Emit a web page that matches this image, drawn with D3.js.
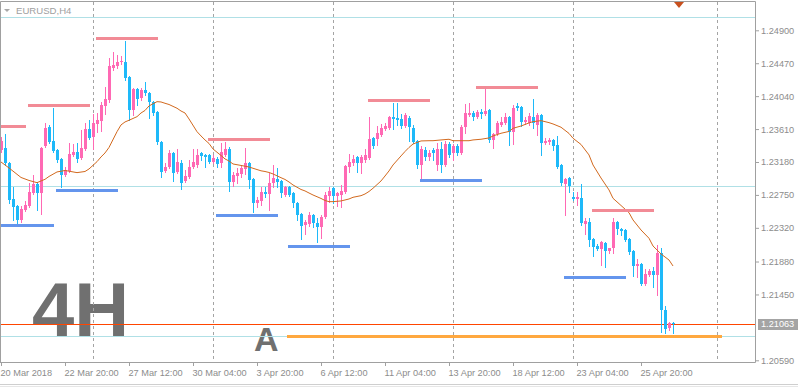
<!DOCTYPE html>
<html>
<head>
<meta charset="utf-8">
<style>
    body { margin: 0; background: #fff; }
    svg { display: block; font-family: "Liberation Sans", Arial, sans-serif; }
    .axis text { fill: #8c8c8c; font-size: 9.2px; }
    .axis line { stroke: #a0a0a0; }
</style>
</head>
<body>
<script src="https://cdn.jsdelivr.net/npm/d3@7"></script>
<script>

    // EURUSD H4 bars, 20 Mar 2018 04:00 .. 27 Apr 2018 04:00
    var open = [
        1.2334, 1.2336, 1.2317, 1.2270, 1.2261, 1.2242, 1.2255, 1.2261, 1.2277, 1.2289,
        1.2277, 1.2339, 1.2364, 1.2345, 1.2334, 1.2322, 1.2301, 1.2306, 1.2327, 1.2331,
        1.2323, 1.2335, 1.2361, 1.2351, 1.2368, 1.2372, 1.2391, 1.2399, 1.2441, 1.2443,
        1.2449, 1.2449, 1.2429, 1.2386, 1.2413, 1.2402, 1.2412, 1.2408, 1.2396, 1.2383,
        1.2344, 1.2306, 1.2312, 1.2330, 1.2305, 1.2317, 1.2293, 1.2298, 1.2312, 1.2314,
        1.2330, 1.2327, 1.2327, 1.2318, 1.2322, 1.2317, 1.2327, 1.2335, 1.2292, 1.2300,
        1.2302, 1.2309, 1.2317, 1.2296, 1.2264, 1.2267, 1.2279, 1.2276, 1.2291, 1.2296,
        1.2293, 1.2275, 1.2285, 1.2277, 1.2264, 1.2250, 1.2236, 1.2237, 1.2249, 1.2238,
        1.2233, 1.2246, 1.2274, 1.2284, 1.2274, 1.2275, 1.2279, 1.2312, 1.2317, 1.2325,
        1.2317, 1.2320, 1.2323, 1.2349, 1.2348, 1.2353, 1.2361, 1.2362, 1.2377, 1.2375,
        1.2374, 1.2365, 1.2375, 1.2362, 1.2345, 1.2314, 1.2334, 1.2325, 1.2334, 1.2314,
        1.2335, 1.2314, 1.2341, 1.2330, 1.2339, 1.2330, 1.2364, 1.2379, 1.2382, 1.2377,
        1.2383, 1.2381, 1.2386, 1.2347, 1.2355, 1.2366, 1.2369, 1.2377, 1.2357, 1.2391,
        1.2390, 1.2370, 1.2369, 1.2377, 1.2366, 1.2379, 1.2343, 1.2344, 1.2347, 1.2340,
        1.2314, 1.2289, 1.2297, 1.2272, 1.2270, 1.2271, 1.2237, 1.2240, 1.2218, 1.2208,
        1.2204, 1.2212, 1.2202, 1.2206, 1.2240, 1.2231, 1.2229, 1.2218, 1.2202, 1.2182,
        1.2185, 1.2159, 1.2170, 1.2176, 1.2170, 1.2199, 1.2125, 1.2101, 1.2108
    ];
    var high = [
        1.2351, 1.2355, 1.2318, 1.2285, 1.2262, 1.2261, 1.2267, 1.2291, 1.2301, 1.2292,
        1.2338, 1.2369, 1.2366, 1.2389, 1.2335, 1.2323, 1.2312, 1.2343, 1.2341, 1.2343,
        1.2360, 1.2369, 1.2373, 1.2381, 1.2382, 1.2396, 1.2416, 1.2454, 1.2462, 1.2458,
        1.2456, 1.2476, 1.2430, 1.2415, 1.2415, 1.2415, 1.2423, 1.2410, 1.2398, 1.2385,
        1.2345, 1.2317, 1.2334, 1.2331, 1.2335, 1.2321, 1.2308, 1.2321, 1.2335, 1.2335,
        1.2331, 1.2328, 1.2328, 1.2327, 1.2325, 1.2343, 1.2344, 1.2338, 1.2305, 1.2310,
        1.2314, 1.2336, 1.2318, 1.2297, 1.2272, 1.2285, 1.2285, 1.2304, 1.2314, 1.2310,
        1.2295, 1.2287, 1.2287, 1.2279, 1.2266, 1.2251, 1.2242, 1.2253, 1.2250, 1.2245,
        1.2249, 1.2279, 1.2285, 1.2285, 1.2279, 1.2288, 1.2314, 1.2328, 1.2327, 1.2326,
        1.2327, 1.2335, 1.2377, 1.2351, 1.2365, 1.2368, 1.2369, 1.2378, 1.2395, 1.2395,
        1.2381, 1.2382, 1.2378, 1.2366, 1.2347, 1.2339, 1.2338, 1.2334, 1.2336, 1.2343,
        1.2344, 1.2345, 1.2344, 1.2341, 1.2341, 1.2366, 1.2394, 1.2395, 1.2385, 1.2386,
        1.2387, 1.2413, 1.2387, 1.2356, 1.2372, 1.2377, 1.2382, 1.2378, 1.2392, 1.2395,
        1.2391, 1.2377, 1.2382, 1.2400, 1.2382, 1.2381, 1.2349, 1.2349, 1.2348, 1.2352,
        1.2315, 1.2297, 1.2298, 1.2279, 1.2279, 1.2289, 1.2245, 1.2245, 1.2219, 1.2211,
        1.2215, 1.2214, 1.2206, 1.2245, 1.2241, 1.2232, 1.2231, 1.2219, 1.2203, 1.2191,
        1.2186, 1.2178, 1.2178, 1.2181, 1.2210, 1.2206, 1.2130, 1.2109, 1.2109
    ];
    var low = [
        1.2331, 1.2314, 1.2264, 1.2242, 1.2238, 1.2240, 1.2254, 1.2259, 1.2276, 1.2255,
        1.2250, 1.2338, 1.2343, 1.2331, 1.2318, 1.2285, 1.2300, 1.2305, 1.2326, 1.2318,
        1.2322, 1.2334, 1.2348, 1.2335, 1.2357, 1.2359, 1.2381, 1.2396, 1.2438, 1.2441,
        1.2446, 1.2425, 1.2373, 1.2379, 1.2392, 1.2399, 1.2406, 1.2375, 1.2379, 1.2341,
        1.2298, 1.2305, 1.2310, 1.2293, 1.2304, 1.2283, 1.2292, 1.2297, 1.2310, 1.2312,
        1.2321, 1.2312, 1.2317, 1.2317, 1.2312, 1.2312, 1.2326, 1.2280, 1.2287, 1.2291,
        1.2298, 1.2302, 1.2284, 1.2253, 1.2259, 1.2262, 1.2272, 1.2255, 1.2285, 1.2285,
        1.2272, 1.2274, 1.2274, 1.2259, 1.2242, 1.2218, 1.2224, 1.2234, 1.2233, 1.2214,
        1.2219, 1.2245, 1.2266, 1.2264, 1.2261, 1.2259, 1.2277, 1.2305, 1.2314, 1.2305,
        1.2304, 1.2318, 1.2322, 1.2336, 1.2340, 1.2352, 1.2360, 1.2361, 1.2361, 1.2366,
        1.2362, 1.2364, 1.2345, 1.2343, 1.2310, 1.2297, 1.2321, 1.2321, 1.2321, 1.2308,
        1.2305, 1.2313, 1.2325, 1.2321, 1.2327, 1.2328, 1.2356, 1.2378, 1.2373, 1.2375,
        1.2375, 1.2379, 1.2344, 1.2336, 1.2353, 1.2365, 1.2368, 1.2340, 1.2341, 1.2386,
        1.2365, 1.2368, 1.2366, 1.2362, 1.2353, 1.2327, 1.2341, 1.2341, 1.2334, 1.2310,
        1.2288, 1.2249, 1.2279, 1.2268, 1.2262, 1.2236, 1.2224, 1.2208, 1.2195, 1.2203,
        1.2183, 1.2181, 1.2199, 1.2199, 1.2224, 1.2223, 1.2215, 1.2198, 1.2169, 1.2168,
        1.2157, 1.2157, 1.2169, 1.2155, 1.2144, 1.2096, 1.2095, 1.2099, 1.2095
    ];
    var close = [
        1.2345, 1.2317, 1.2268, 1.2259, 1.2242, 1.2257, 1.2262, 1.2279, 1.2289, 1.2277,
        1.2336, 1.2362, 1.2344, 1.2332, 1.2321, 1.2301, 1.2308, 1.2328, 1.2331, 1.2322,
        1.2336, 1.2361, 1.2349, 1.2369, 1.2373, 1.2392, 1.2400, 1.2443, 1.2445, 1.2449,
        1.2450, 1.2428, 1.2386, 1.2413, 1.2400, 1.2412, 1.2408, 1.2396, 1.2382, 1.2344,
        1.2305, 1.2312, 1.2330, 1.2304, 1.2318, 1.2291, 1.2300, 1.2312, 1.2318, 1.2327,
        1.2326, 1.2325, 1.2318, 1.2323, 1.2315, 1.2331, 1.2335, 1.2292, 1.2301, 1.2304,
        1.2310, 1.2317, 1.2295, 1.2264, 1.2268, 1.2279, 1.2276, 1.2291, 1.2297, 1.2292,
        1.2277, 1.2285, 1.2275, 1.2264, 1.2249, 1.2234, 1.2240, 1.2249, 1.2238, 1.2233,
        1.2246, 1.2275, 1.2280, 1.2274, 1.2277, 1.2280, 1.2313, 1.2318, 1.2322, 1.2317,
        1.2325, 1.2327, 1.2348, 1.2339, 1.2356, 1.2362, 1.2365, 1.2377, 1.2374, 1.2373,
        1.2365, 1.2379, 1.2364, 1.2344, 1.2314, 1.2335, 1.2325, 1.2330, 1.2330, 1.2335,
        1.2314, 1.2341, 1.2327, 1.2339, 1.2330, 1.2364, 1.2382, 1.2382, 1.2377, 1.2383,
        1.2381, 1.2385, 1.2347, 1.2355, 1.2369, 1.2370, 1.2377, 1.2357, 1.2389, 1.2389,
        1.2370, 1.2373, 1.2378, 1.2369, 1.2379, 1.2343, 1.2345, 1.2347, 1.2339, 1.2312,
        1.2291, 1.2296, 1.2287, 1.2270, 1.2272, 1.2238, 1.2241, 1.2216, 1.2207, 1.2204,
        1.2214, 1.2202, 1.2206, 1.2240, 1.2231, 1.2228, 1.2216, 1.2200, 1.2182, 1.2185,
        1.2159, 1.2172, 1.2176, 1.2170, 1.2199, 1.2125, 1.2100, 1.2108, 1.21063
    ];

    // moving average at these bars
    var maBar = [0, 2, 5, 7, 9, 11, 12, 14, 16, 17, 19, 21, 22, 24, 25, 26, 27, 29, 30, 31,
        32, 34, 35, 36, 37, 39, 40, 41, 42, 44, 45, 46, 47, 49, 50, 51, 52, 53, 55, 56,
        57, 58, 60, 62, 63, 65, 66, 67, 68, 70, 71, 72, 73, 75, 76, 77, 78, 80, 81, 82,
        83, 85, 86, 87, 88, 90, 91, 92, 93, 95, 96, 97, 98, 100, 101, 102, 103, 105, 107, 108,
        110, 112, 113, 115, 117, 118, 120, 122, 123, 125, 127, 128, 130, 132, 133, 135, 137, 138, 140, 142,
        143, 145, 147, 148, 150, 152, 153, 155, 157, 158, 160, 162, 163, 165, 167, 168];
    var maVal = [1.23180, 1.23102, 1.22978, 1.22939, 1.22910, 1.22954, 1.22991, 1.23050, 1.23069, 1.23060,
        1.23041, 1.23056, 1.23089, 1.23184, 1.23246, 1.23298, 1.23370, 1.23576, 1.23664, 1.23703,
        1.23725, 1.23772, 1.23820, 1.23853, 1.23912, 1.23968, 1.23964, 1.23947, 1.23931, 1.23882,
        1.23846, 1.23820, 1.23742, 1.23576, 1.23520, 1.23468, 1.23422, 1.23350, 1.23265, 1.23220,
        1.23193, 1.23154, 1.23135, 1.23115, 1.23098, 1.23065, 1.23056, 1.23043, 1.23024, 1.22975,
        1.22952, 1.22919, 1.22880, 1.22821, 1.22802, 1.22775, 1.22749, 1.22704, 1.22677, 1.22662,
        1.22662, 1.22671, 1.22684, 1.22697, 1.22719, 1.22740, 1.22762, 1.22795, 1.22837, 1.22932,
        1.22997, 1.23063, 1.23141, 1.23259, 1.23317, 1.23370, 1.23415, 1.23455, 1.23458, 1.23458,
        1.23468, 1.23477, 1.23458, 1.23458, 1.23458, 1.23468, 1.23477, 1.23494, 1.23520, 1.23555,
        1.23579, 1.23620, 1.23650, 1.23690, 1.23707, 1.23720, 1.23694, 1.23677, 1.23634, 1.23553,
        1.23490, 1.23409, 1.23272, 1.23141, 1.22971, 1.22815, 1.22706, 1.22612, 1.22518, 1.22423,
        1.22292, 1.22184, 1.22083, 1.21979, 1.21900, 1.21822];

    // drawn levels: [fromBar, toBar, price]
    var resistLevels = [[-0.25, 6.25, 1.23654], [6.75, 22.25, 1.23929], [23.75, 39.25, 1.24800],
        [51.75, 67.25, 1.23481], [91.75, 107.25, 1.23993], [118.75, 134.25, 1.24164], [147.75, 163.25, 1.22553]];
    var supportLevels = [[-0.25, 13.25, 1.22351], [13.75, 29.25, 1.22808], [53.75, 69.25, 1.22491],
        [71.75, 87.25, 1.22077], [104.75, 120.25, 1.22949], [140.75, 156.25, 1.21678]];
    var targetLevel = [71.5, 180.25, 1.20904];
    var hLines = [1.25078, 1.22867, 1.20908];
    var bidPrice = 1.21063;

    var separatorBars = [23, 53, 83, 113, 143, 179];
    var tickBars = [0, 16, 32, 48, 64, 80, 96, 112, 128, 144, 160];
    var tickLabels = ["20 Mar 2018", "22 Mar 20:00", "27 Mar 12:00", "30 Mar 04:00", "3 Apr 20:00",
        "6 Apr 12:00", "11 Apr 04:00", "13 Apr 20:00", "18 Apr 12:00", "23 Apr 04:00", "25 Apr 20:00"];
    var priceTicks = [1.24900, 1.24470, 1.24040, 1.23610, 1.23180, 1.22750, 1.22320, 1.21880, 1.21450, 1.20590];

    var width = 798, height = 387,
        plotRight = 755, plotBottom = 362;

    var svg = d3.select("body").append("svg")
        .attr("width", width)
        .attr("height", height);

    var x = d3.scaleLinear().domain([0, 100]).range([1, 401]);
    var y = d3.scaleLinear().domain([1.20590, 1.24900]).range([360.3, 30.3]);

    function py(p) { return Math.round(y(p)) + 0.5; }

    var plot = svg.append("g");

    // big labels
    plot.append("text")
        .attr("x", 32).attr("y", 336)
        .attr("font-size", 76).attr("font-weight", "bold")
        .attr("fill", "#707070")
        .text("4H");
    plot.append("text")
        .attr("x", 254).attr("y", 350.5)
        .attr("font-size", 34).attr("font-weight", "bold")
        .attr("fill", "#707070")
        .text("A");

    // week separators
    plot.append("g").selectAll("line")
        .data(separatorBars)
        .enter().append("line")
        .attr("x1", function(d) { return Math.round(x(d)) + 0.5; })
        .attr("x2", function(d) { return Math.round(x(d)) + 0.5; })
        .attr("y1", 2).attr("y2", plotBottom)
        .attr("stroke", "#a4a4a4")
        .attr("stroke-dasharray", "3,3");

    // horizontal lines
    plot.append("g").selectAll("line")
        .data(hLines)
        .enter().append("line")
        .attr("x1", 0).attr("x2", plotRight)
        .attr("y1", py).attr("y2", py)
        .attr("stroke", "#b0e0e6");

    plot.append("line")
        .attr("x1", 0).attr("x2", plotRight)
        .attr("y1", py(bidPrice)).attr("y2", py(bidPrice))
        .attr("stroke", "#ff4500");

    // candles
    var bars = d3.range(open.length);
    var candle = plot.append("g").selectAll("g")
        .data(bars)
        .enter().append("g")
        .attr("fill", function(i) { return close[i] >= open[i] ? "#ff69b4" : "#1eb9f9"; });

    candle.append("rect")
        .attr("x", function(i) { return Math.round(x(i)); })
        .attr("width", 1)
        .attr("y", function(i) { return Math.round(y(high[i])); })
        .attr("height", function(i) { return Math.round(y(low[i])) - Math.round(y(high[i])) + 1; });

    candle.append("rect")
        .attr("x", function(i) { return Math.round(x(i)) - 1; })
        .attr("width", 3)
        .attr("y", function(i) { return Math.round(y(Math.max(open[i], close[i]))); })
        .attr("height", function(i) {
            return Math.max(1, Math.round(y(Math.min(open[i], close[i]))) - Math.round(y(Math.max(open[i], close[i]))));
        });

    // moving average
    plot.append("path")
        .datum(maBar)
        .attr("fill", "none")
        .attr("stroke", "#d2691e")
        .attr("stroke-width", 1)
        .attr("d", d3.line()
            .x(function(d) { return x(d); })
            .y(function(d, i) { return y(maVal[i]); }));

    // levels
    function levels(data, color) {
        plot.append("g").selectAll("line")
            .data(data)
            .enter().append("line")
            .attr("x1", function(d) { return Math.max(0, x(d[0])); })
            .attr("x2", function(d) { return x(d[1]); })
            .attr("y1", function(d) { return py(d[2]); })
            .attr("y2", function(d) { return py(d[2]); })
            .attr("stroke", color)
            .attr("stroke-width", 3);
    }
    levels(resistLevels, "#f28b96");
    levels(supportLevels, "#6495ed");
    levels([targetLevel], "#ffa83f");

    // frame
    var frame = svg.append("g").attr("stroke", "#a0a0a0").attr("fill", "none");
    frame.append("path").attr("d", "M0.5," + plotBottom + ".5V1.5H" + plotRight + ".5V" + plotBottom + ".5H0");
    svg.append("line").attr("x1", 0).attr("x2", width).attr("y1", 384.5).attr("y2", 384.5).attr("stroke", "#cfcfcf");
    svg.append("line").attr("x1", 0).attr("x2", width).attr("y1", 386.5).attr("y2", 386.5).attr("stroke", "#e6e6e6");

    // price axis
    var yAxis = svg.append("g")
        .attr("class", "axis")
        .attr("transform", "translate(" + plotRight + ",0)")
        .call(d3.axisRight(y)
            .tickValues(priceTicks)
            .tickFormat(d3.format(".5f"))
            .tickSize(4)
            .tickPadding(2));
    yAxis.select(".domain").remove();
    yAxis.selectAll("text").attr("font-family", null).attr("font-size", null);

    // time axis
    var xAxis = svg.append("g")
        .attr("class", "axis")
        .attr("transform", "translate(0," + plotBottom + ")")
        .call(d3.axisBottom(x)
            .tickValues(tickBars)
            .tickFormat(function(d, i) { return tickLabels[i]; })
            .tickSize(4)
            .tickPadding(3));
    xAxis.select(".domain").remove();
    xAxis.selectAll("text")
        .attr("font-family", null).attr("font-size", null)
        .attr("text-anchor", "start")
        .attr("dx", -1);

    // bid price box
    svg.append("rect")
        .attr("x", 758).attr("y", Math.round(y(bidPrice)) - 5)
        .attr("width", 40).attr("height", 11)
        .attr("fill", "#a4a4a4");
    svg.append("text")
        .attr("x", 761).attr("y", y(bidPrice))
        .attr("dy", "0.34em")
        .attr("font-size", 9.2)
        .attr("fill", "#ffffff")
        .text(d3.format(".5f")(bidPrice));

    // symbol caption
    svg.append("path").attr("d", "M4,9H10L7,12Z").attr("fill", "#a8a8a8");
    svg.append("text")
        .attr("x", 16).attr("y", 14)
        .attr("font-size", 9.6)
        .attr("fill", "#a0a0a0")
        .text("EURUSD,H4");

    // chart shift marker
    svg.append("path").attr("d", "M674,2H684L679,8Z").attr("fill", "#c8501e");

</script>
</body>
</html>
